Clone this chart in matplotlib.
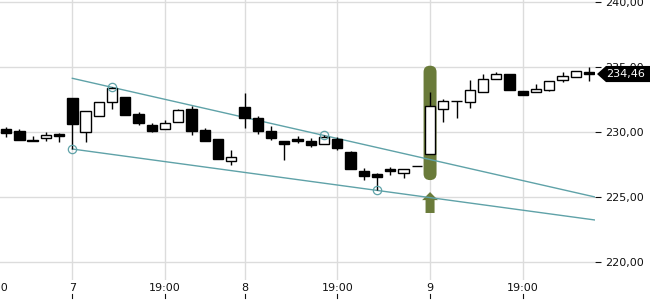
import matplotlib
matplotlib.use("Agg")
import matplotlib.pyplot as plt
import matplotlib.transforms as mtransforms
from matplotlib.patches import FancyBboxPatch, Rectangle, Polygon


# hourly candles
opens = [230.23, 230.07, 229.40, 229.50, 229.85, 232.60, 230.00, 231.25, 232.30, 232.70,
         231.40, 230.50, 230.20, 230.75, 231.77, 230.13, 229.45, 227.79, 231.92, 231.08,
         230.08, 229.30, 229.48, 229.30, 229.04, 229.46, 228.48, 227.00, 226.77, 227.13,
         226.87, 227.36, 228.28, 231.80, 232.38, 232.33, 233.05, 234.05, 234.44, 233.15,
         233.05, 233.25, 233.98, 234.20, 234.60]
highs = [230.38, 230.20, 229.70, 230.00, 229.90, 232.60, 231.60, 232.30, 233.45, 232.70,
         231.50, 230.67, 230.90, 231.77, 231.98, 230.30, 229.45, 228.62, 233.02, 231.23,
         230.46, 229.30, 229.67, 229.50, 229.80, 229.64, 228.56, 227.25, 226.87, 227.30,
         227.18, 227.36, 233.08, 232.56, 232.40, 234.00, 234.50, 234.60, 234.50, 233.15,
         233.67, 233.90, 234.60, 234.70, 234.99]
lows = [229.60, 229.40, 229.30, 229.30, 229.20, 228.69, 229.25, 231.20, 231.80, 231.30,
        230.55, 230.00, 230.20, 230.75, 229.80, 229.33, 227.95, 227.46, 230.33, 229.87,
        229.40, 227.87, 229.18, 228.85, 229.04, 228.60, 227.18, 226.33, 225.50, 226.67,
        226.44, 227.36, 228.28, 230.77, 231.10, 231.87, 233.05, 234.05, 233.20, 232.87,
        233.05, 233.15, 233.87, 234.20, 233.90]
closes = [229.92, 229.40, 229.30, 229.80, 229.70, 230.60, 231.60, 232.30, 233.36, 231.30,
          230.70, 230.10, 230.67, 231.67, 230.10, 229.33, 227.95, 228.08, 231.08, 230.10,
          229.56, 229.05, 229.33, 229.00, 229.60, 228.80, 227.18, 226.64, 226.56, 227.00,
          227.18, 227.36, 231.98, 232.36, 232.38, 233.20, 234.05, 234.44, 233.20, 232.87,
          233.30, 233.90, 234.33, 234.70, 234.46]

# x labels (candle index where they sit)
tick_idx = [-1, 5, 12, 18, 25, 32, 39]
tick_labels = ["19:00", "7", "19:00", "8", "19:00", "9", "19:00"]
y_ticks = [220, 225, 230, 235, 240]

# trend channel: (start index, end index) and values
line_x = [5, 44.45]
upper_y = [234.13, 225.00]
lower_y = [228.69, 223.23]
touch_high = [8, 24]
touch_low = [5, 28]

# signal candle
signal_idx = 32
signal_band = [226.3, 235.1]
arrow_y = [223.77, 225.38]

last_price = 234.46

TEAL = "#5fa2a8"
GREEN = "#6a7b3a"

fig = plt.figure(figsize=(6.5, 3), dpi=100)
ax = fig.add_axes([0, 20 / 300, 595 / 650, 280 / 300])

for s in ax.spines.values():
    s.set_visible(False)

ax.set_xticks(tick_idx)
ax.set_xticklabels([])
ax.tick_params(axis="x", length=0)
ax.set_yticks(y_ticks)
ax.set_yticklabels([f"{v:.2f}".replace(".", ",") for v in y_ticks])
ax.yaxis.tick_right()
ax.tick_params(axis="y", length=4, width=0.8, pad=3, labelsize=8, colors="#111111")
ax.grid(True, color="#dcdcdc", linewidth=1.0)
ax.set_axisbelow(True)
# limits after the ticks, set_xticks would widen them
ax.set_xlim(-0.46, 44.45)
ax.set_ylim(218.615, 240.154)

# x labels drawn as text so the cut-off one on the left still shows
trans_x = mtransforms.blended_transform_factory(ax.transData, ax.transAxes)
for xi, lab in zip(tick_idx, tick_labels):
    ax.text(xi, -0.027, lab, transform=trans_x, ha="center", va="center",
            fontsize=8, color="#111111", clip_on=False)
    ax.plot([xi, xi], [-0.05, -0.064], transform=trans_x, color="#111111",
            lw=0.8, clip_on=False)

# signal highlight
bw = 0.98
band = FancyBboxPatch((signal_idx - bw / 2, signal_band[0]), bw,
                      signal_band[1] - signal_band[0],
                      boxstyle="round,pad=0,rounding_size=0.49",
                      fc=GREEN, ec="none", zorder=2)
ax.add_patch(band)
a0, a1 = arrow_y
ah = 0.62
arrow = Polygon([(signal_idx - 0.34, a0), (signal_idx + 0.34, a0),
                 (signal_idx + 0.34, a1 - ah), (signal_idx + 0.6, a1 - ah),
                 (signal_idx, a1), (signal_idx - 0.6, a1 - ah),
                 (signal_idx - 0.34, a1 - ah)],
                closed=True, fc=GREEN, ec="none", zorder=2)
ax.add_patch(arrow)

# trend lines
ax.plot(line_x, upper_y, color=TEAL, lw=1.0, zorder=3)
ax.plot(line_x, lower_y, color=TEAL, lw=1.0, zorder=3)
ax.plot(touch_high, [highs[i] for i in touch_high], "o", ms=6, mfc="none",
        mec=TEAL, mew=0.9, zorder=5)
ax.plot(touch_low, [lows[i] for i in touch_low], "o", ms=6, mfc="none",
        mec=TEAL, mew=0.9, zorder=5)

# candles
w = 0.78
for i in range(len(opens)):
    o, h, l, c = opens[i], highs[i], lows[i], closes[i]
    ax.vlines(i, l, h, color="black", lw=1.0, zorder=4)
    fc = "white" if c > o else "black"
    ax.add_patch(Rectangle((i - w / 2, min(o, c)), w, abs(c - o), fc=fc,
                           ec="black", lw=1.0, zorder=4))

ax.set_xlim(-0.46, 44.45)
ax.set_ylim(218.615, 240.154)

# last price tag
trans_tag = mtransforms.blended_transform_factory(fig.transFigure, ax.transData)
hh = 0.62
tag = Polygon([(597 / 650, last_price), (606 / 650, last_price + hh),
               (1.0, last_price + hh), (1.0, last_price - hh),
               (606 / 650, last_price - hh)],
              closed=True, fc="black", ec="none", transform=trans_tag, zorder=10)
fig.add_artist(tag)
fig.text(606 / 650, last_price, f"{last_price:.2f}".replace(".", ","),
         transform=trans_tag, color="white", fontsize=8, va="center", ha="left",
         zorder=11)

plt.savefig("out.png", dpi=100)
